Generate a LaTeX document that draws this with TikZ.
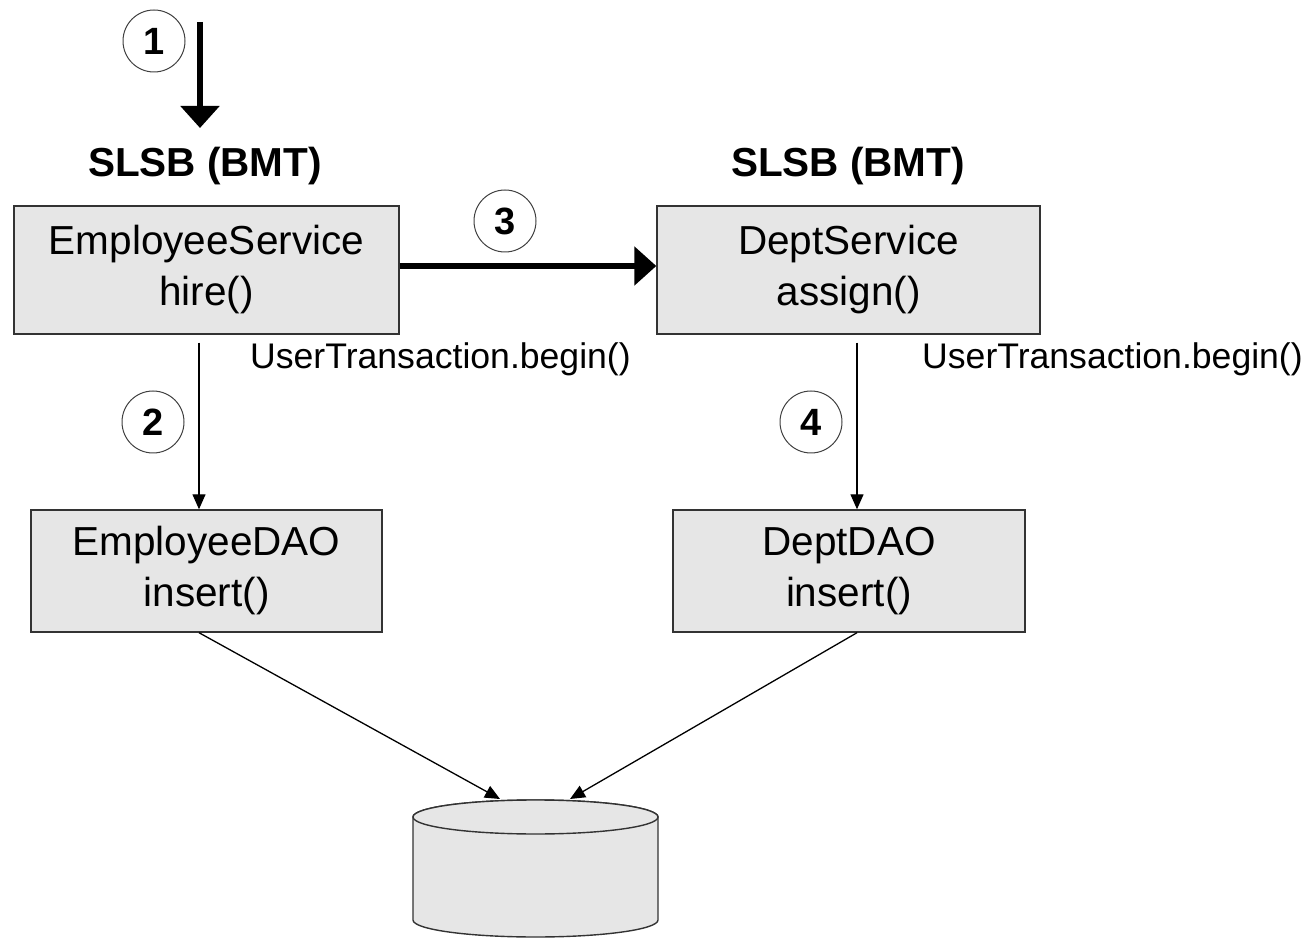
\documentclass[tikz,border=0pt]{standalone}
\usepackage{fontspec}
\setmainfont{Liberation Sans}
\usetikzlibrary{arrows.meta}
\definecolor{boxfill}{gray}{0.902}
\definecolor{boxline}{gray}{0.2}
\tikzset{
  component/.style={draw=boxline, line width=1.4pt, fill=boxfill, align=center,
    inner sep=0pt, font=\fontsize{40.5}{51}\selectfont},
  stereotype/.style={font=\fontsize{40.5}{48}\selectfont\bfseries, inner sep=0pt},
  stepmark/.style={circle, draw=black!75, line width=1pt, minimum size=62pt, inner sep=0pt,
    font=\fontsize{38}{40}\selectfont\bfseries},
  txnote/.style={font=\fontsize{35.6}{40}\selectfont, inner sep=0pt, anchor=west},
  bigcall/.style={line width=6pt, -{Triangle[length=22pt,width=38pt]}},
  smallcall/.style={line width=1.3pt, -{Triangle[length=15pt,width=13pt]}},
  dbshape/.style={draw=boxline, line width=1.4pt, fill=boxfill}
}
\begin{document}
\begin{tikzpicture}[x=1pt,y=1pt]
\useasboundingbox (0,0) rectangle (1306,938);

% session beans and DAOs
\node[component, minimum width=385pt, minimum height=128pt] (es) at (206.5,668) {EmployeeService\\hire()};
\node[component, minimum width=383pt, minimum height=128pt] (ds) at (848.5,668) {DeptService\\assign()};
\node[component, minimum width=351pt, minimum height=122pt] (edao) at (206.5,367) {EmployeeDAO\\insert()};
\node[component, minimum width=352pt, minimum height=122pt] (ddao) at (849,367) {DeptDAO\\insert()};

% stereotypes
\node[stereotype] (slsb1) at (205,772) {SLSB (BMT)};
\node[stereotype] (slsb2) at (848,772) {SLSB (BMT)};

% transaction notes
\node[txnote] (ut1) at (250,579) {UserTransaction.begin()};
\node[txnote] (ut2) at (922,579) {UserTransaction.begin()};

% step numbers
\node[stepmark] (s1) at (154,897) {1};
\node[stepmark] (s2) at (153,516) {2};
\node[stepmark] (s3) at (505,717) {3};
\node[stepmark] (s4) at (811,516) {4};

% database
\path[dbshape] (413,121) -- (413,18)
  arc[start angle=180, end angle=360, x radius=122.5, y radius=17]
  -- (658,121) arc[start angle=0, end angle=180, x radius=122.5, y radius=17] -- cycle;
\draw[dbshape] (535.5,121) ellipse [x radius=122.5, y radius=17];
\coordinate (dbin1) at (500,139);
\coordinate (dbin2) at (570,139);

% calls
\coordinate (client) at (200,916);
\coordinate (clientend) at (200,810);
\draw[bigcall] (client) -- (clientend);
\draw[bigcall] ([yshift=4pt]es.east) -- ([yshift=4pt]ds.west);
\draw[smallcall] ([xshift=-7.5pt,yshift=-8pt]es.south) -- ([xshift=-7.5pt]edao.north);
\draw[smallcall] ([xshift=8.5pt,yshift=-8pt]ds.south) -- ([xshift=8pt]ddao.north);
\draw[smallcall] ([xshift=-7.5pt]edao.south) -- (dbin1);
\draw[smallcall] ([xshift=8pt]ddao.south) -- (dbin2);
\end{tikzpicture}
\end{document}
